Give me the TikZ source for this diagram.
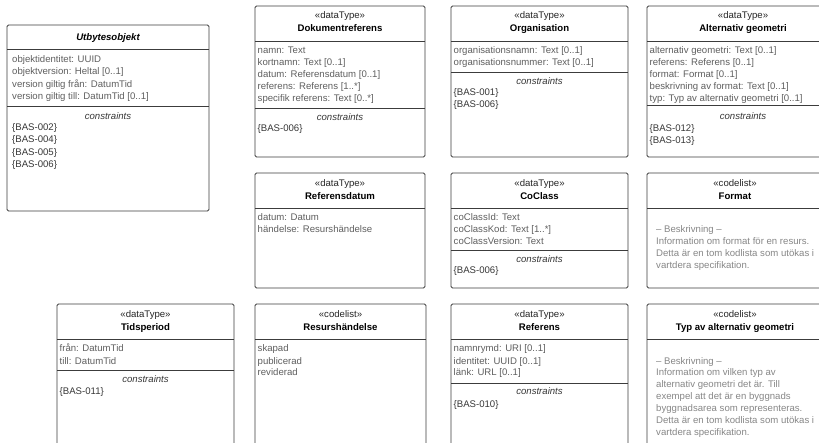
\documentclass[tikz,border=0pt]{standalone}
\usepackage{fontspec}
\setmainfont{Liberation Sans}
\definecolor{boxline}{RGB}{60,60,60}
\definecolor{attr}{RGB}{95,95,95}
\definecolor{cons}{RGB}{55,55,55}
\definecolor{notec}{RGB}{135,135,135}
\tikzset{
  umlbox/.style={draw=boxline, line width=0.9pt, rounded corners=1.5pt, fill=white, inner sep=0pt},
  sep/.style={draw=boxline, line width=1pt},
  txt/.style={inner sep=0pt, anchor=west, text height=7pt, text depth=2pt, font=\fontsize{9.6}{12}\selectfont},
  attrtxt/.style={txt, text=attr},
  constxt/.style={txt, text=cons},
  notetxt/.style={txt, text=notec},
  head/.style={inner sep=0pt, anchor=center, text height=7pt, text depth=2pt},
  stereo/.style={head, text=black!85, font=\fontsize{9.6}{12}\selectfont},
  title/.style={head, text=black, font=\fontsize{9.6}{12}\selectfont\bfseries},
  constlabel/.style={head, text=cons, font=\fontsize{9.6}{12}\selectfont\itshape},
}
\newcommand{\hsep}[3]{\draw[sep] (#1,#3) -- (#2,#3);}
\begin{document}
\begin{tikzpicture}[x=1pt,y=-1pt]
\useasboundingbox (0,0) rectangle (819,443);
\clip (0,0) rectangle (819,443);
\fill[white] (0,0) rectangle (819,443);

% ---------------- Utbytesobjekt
\node[umlbox, minimum width=202pt, minimum height=186pt] (utb) at (108,118) {};
\node[title, font=\fontsize{9.6}{12}\selectfont\bfseries\itshape] (utbT) at (108,38.5) {Utbytesobjekt};
\hsep{7}{209}{50}
\foreach \t [count=\i from 0] in {objektidentitet: UUID, objektversion: Heltal [0..1], version giltig från: DatumTid, version giltig till: DatumTid [0..1]}
  \node[attrtxt] (utbA\i) at (12,60.3+12.2*\i) {\t};
\hsep{7}{209}{106.7}
\node[constlabel] (utbC) at (108,116.7) {constraints};
\foreach \t [count=\i from 0] in {\{BAS-002\}, \{BAS-004\}, \{BAS-005\}, \{BAS-006\}}
  \node[constxt] (utbB\i) at (12,128.3+12.2*\i) {\t};

% ---------------- Dokumentreferens
\node[umlbox, minimum width=170pt, minimum height=151pt] (dok) at (340,81.5) {};
\node[stereo] (dokS) at (340,16.3) {«dataType»};
\node[title] (dokT) at (340,29.3) {Dokumentreferens};
\hsep{255}{425}{41.5}
\foreach \t [count=\i from 0] in {namn: Text, kortnamn: Text [0..1], datum: Referensdatum [0..1], referens: Referens [1..*], specifik referens: Text [0..*]}
  \node[attrtxt] (dokA\i) at (257.5,50.7+12*\i) {\t};
\hsep{255}{425}{109}
\node[constlabel] (dokC) at (340,118.3) {constraints};
\node[constxt] (dokB0) at (257.5,128.8) {\{BAS-006\}};

% ---------------- Organisation
\node[umlbox, minimum width=177pt, minimum height=151pt] (org) at (539.5,81.5) {};
\node[stereo] (orgS) at (539.5,16.3) {«dataType»};
\node[title] (orgT) at (539.5,29.3) {Organisation};
\hsep{451}{628}{41.5}
\foreach \t [count=\i from 0] in {organisationsnamn: Text [0..1], organisationsnummer: Text [0..1]}
  \node[attrtxt] (orgA\i) at (453.5,50.7+12*\i) {\t};
\hsep{451}{628}{72.3}
\node[constlabel] (orgC) at (539.5,81.8) {constraints};
\foreach \t [count=\i from 0] in {\{BAS-001\}, \{BAS-006\}}
  \node[constxt] (orgB\i) at (453.5,93+12*\i) {\t};

% ---------------- Alternativ geometri
\node[umlbox, minimum width=192pt, minimum height=151pt] (alt) at (743,81.5) {};
\node[stereo] (altS) at (743,16.3) {«dataType»};
\node[title] (altT) at (743,29.3) {Alternativ geometri};
\hsep{647}{839}{41.5}
\foreach \t [count=\i from 0] in {alternativ geometri: Text [0..1], referens: Referens [0..1], format: Format [0..1], beskrivning av format: Text [0..1], typ: Typ av alternativ geometri [0..1]}
  \node[attrtxt] (altA\i) at (649.5,50.7+12*\i) {\t};
\hsep{647}{839}{106}
\node[constlabel] (altC) at (743,117.5) {constraints};
\foreach \t [count=\i from 0] in {\{BAS-012\}, \{BAS-013\}}
  \node[constxt] (altB\i) at (649.5,129.5+12*\i) {\t};

% ---------------- Referensdatum
\node[umlbox, minimum width=170pt, minimum height=115pt] (rdat) at (340,230.5) {};
\node[stereo] (rdatS) at (340,184) {«dataType»};
\node[title] (rdatT) at (340,197) {Referensdatum};
\hsep{255}{425}{208.5}
\foreach \t [count=\i from 0] in {datum: Datum, händelse: Resurshändelse}
  \node[attrtxt] (rdatA\i) at (257.5,217.7+12*\i) {\t};

% ---------------- CoClass
\node[umlbox, minimum width=177pt, minimum height=115pt] (coc) at (539.5,230.5) {};
\node[stereo] (cocS) at (539.5,184) {«dataType»};
\node[title] (cocT) at (539.5,197) {CoClass};
\hsep{451}{628}{208.5}
\foreach \t [count=\i from 0] in {coClassId: Text, coClassKod: Text [1..*], coClassVersion: Text}
  \node[attrtxt] (cocA\i) at (453.5,217.7+12*\i) {\t};
\hsep{451}{628}{251}
\node[constlabel] (cocC) at (539.5,260.5) {constraints};
\node[constxt] (cocB0) at (453.5,271.5) {\{BAS-006\}};

% ---------------- Format
\node[umlbox, minimum width=176pt, minimum height=115pt] (fmt) at (735,230.5) {};
\node[stereo] (fmtS) at (735,184) {«codelist»};
\node[title] (fmtT) at (735,197) {Format};
\hsep{647}{823}{208.5}
\foreach \t [count=\i from 0] in {-- Beskrivning --, Information om format för en resurs., Detta är en tom kodlista som utökas i, vartdera specifikation.}
  \node[notetxt] (fmtN\i) at (656,229.7+12*\i) {\t};

% ---------------- Tidsperiod
\node[umlbox, minimum width=177pt, minimum height=160pt] (tid) at (145.5,384) {};
\node[stereo] (tidS) at (145.5,315.5) {«dataType»};
\node[title] (tidT) at (145.5,328) {Tidsperiod};
\hsep{57}{234}{339.5}
\foreach \t [count=\i from 0] in {från: DatumTid, till: DatumTid}
  \node[attrtxt] (tidA\i) at (59.5,349.5+12*\i) {\t};
\hsep{57}{234}{371}
\node[constlabel] (tidC) at (145.5,380.5) {constraints};
\node[constxt] (tidB0) at (59.5,392) {\{BAS-011\}};

% ---------------- Resurshändelse
\node[umlbox, minimum width=171pt, minimum height=160pt] (rh) at (340.5,384) {};
\node[stereo] (rhS) at (340.5,315.5) {«codelist»};
\node[title] (rhT) at (340.5,328) {Resurshändelse};
\hsep{255}{426}{339.5}
\foreach \t [count=\i from 0] in {skapad, publicerad, reviderad}
  \node[attrtxt] (rhA\i) at (257.5,349.5+12*\i) {\t};

% ---------------- Referens
\node[umlbox, minimum width=177pt, minimum height=160pt] (ref) at (539.5,384) {};
\node[stereo] (refS) at (539.5,315.5) {«dataType»};
\node[title] (refT) at (539.5,328) {Referens};
\hsep{451}{628}{339.5}
\foreach \t [count=\i from 0] in {namnrymd: URI [0..1], identitet: UUID [0..1], länk: URL [0..1]}
  \node[attrtxt] (refA\i) at (453.5,349.5+12*\i) {\t};
\hsep{451}{628}{383}
\node[constlabel] (refC) at (539.5,392.5) {constraints};
\node[constxt] (refB0) at (453.5,404.5) {\{BAS-010\}};

% ---------------- Typ av alternativ geometri
\node[umlbox, minimum width=176pt, minimum height=160pt] (typ) at (735,384) {};
\node[stereo] (typS) at (735,315.5) {«codelist»};
\node[title] (typT) at (735,328) {Typ av alternativ geometri};
\hsep{647}{823}{339.5}
\foreach \t [count=\i from 0] in {-- Beskrivning --, Information om vilken typ av, alternativ geometri det är. Till, exempel att det är en byggnads, byggnadsarea som representeras., Detta är en tom kodlista som utökas i, vartdera specifikation.}
  \node[notetxt] (typN\i) at (656,361.5+11.9*\i) {\t};
\end{tikzpicture}
\end{document}
